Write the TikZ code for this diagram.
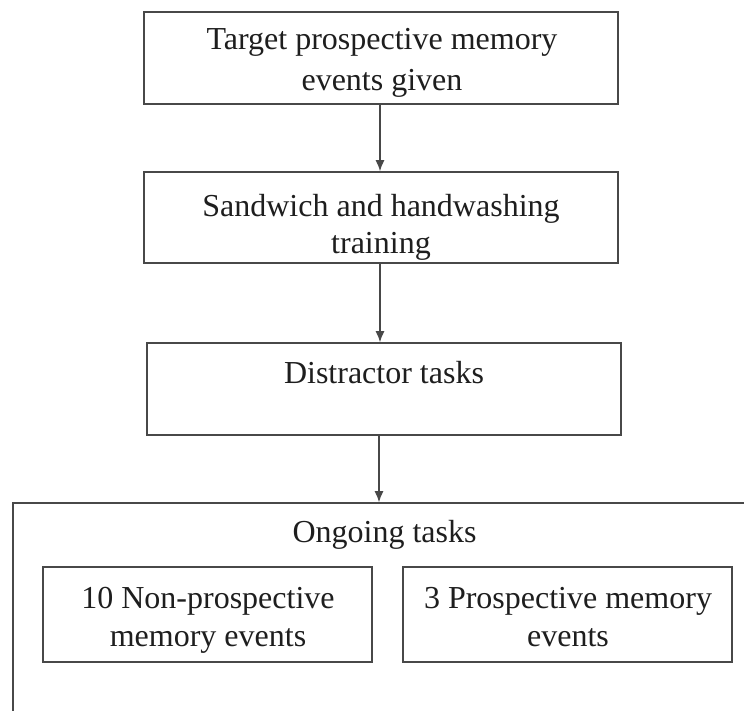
\documentclass[tikz,border=0pt]{standalone}
\usepackage{fontspec}
\setmainfont{Liberation Serif}
\usetikzlibrary{arrows.meta}
\definecolor{linegray}{HTML}{484848}
\definecolor{txt}{HTML}{1E1E1E}
\tikzset{
  stepbox/.style={draw=linegray, line width=1.6pt, fill=white, inner sep=0pt},
  lbl/.style={text=txt, align=center, inner sep=0pt, anchor=north},
  arr/.style={draw=linegray, line width=1.3pt, -{Latex[length=11pt,width=9pt]}}
}
\newcommand{\fs}[1]{\fontsize{32}{#1}\selectfont}
\begin{document}
\begin{tikzpicture}[x=1pt,y=-1pt]
\useasboundingbox (0,0) rectangle (744,711);
\clip (0,0) rectangle (744,711);
\fill[white] (0,0) rectangle (744,711);
% boxes
\node[stepbox, minimum width=474pt, minimum height=92pt] (b1) at (381,58) {};
\node[stepbox, minimum width=474pt, minimum height=91pt] (b2) at (381,217.5) {};
\node[stepbox, minimum width=474pt, minimum height=92pt] (b3) at (384,389) {};
\node[stepbox, minimum width=747pt, minimum height=227pt] (outer) at (386.5,616.5) {};
\node[stepbox, minimum width=329pt, minimum height=95pt] (i1) at (207.5,614.5) {};
\node[stepbox, minimum width=329pt, minimum height=95pt] (i2) at (567.5,614.5) {};
% texts
\node[lbl, font=\fs{41}] (t1) at (382,28) {Target prospective memory\\events given};
\node[lbl, font=\fs{37}] (t2) at (381,194) {Sandwich and handwashing\\training};
\node[lbl, font=\fs{39}] (t3) at (384,361) {Distractor tasks};
\node[lbl, font=\fs{39}] (ongoing) at (384.5,520) {Ongoing tasks};
\node[lbl, font=\fs{38}] (ti1) at (208,587) {10 Non-prospective\\memory events};
\node[lbl, font=\fs{38}] (ti2) at (568,587) {3 Prospective memory\\events};
% connectors
\coordinate (a1) at (380,0);
\draw[arr] (b1.south -| a1) -- (b2.north -| a1);
\draw[arr] (b2.south -| a1) -- (b3.north -| a1);
\coordinate (a3) at (379,0);
\draw[arr] (b3.south -| a3) -- (outer.north -| a3);
\end{tikzpicture}
\end{document}
